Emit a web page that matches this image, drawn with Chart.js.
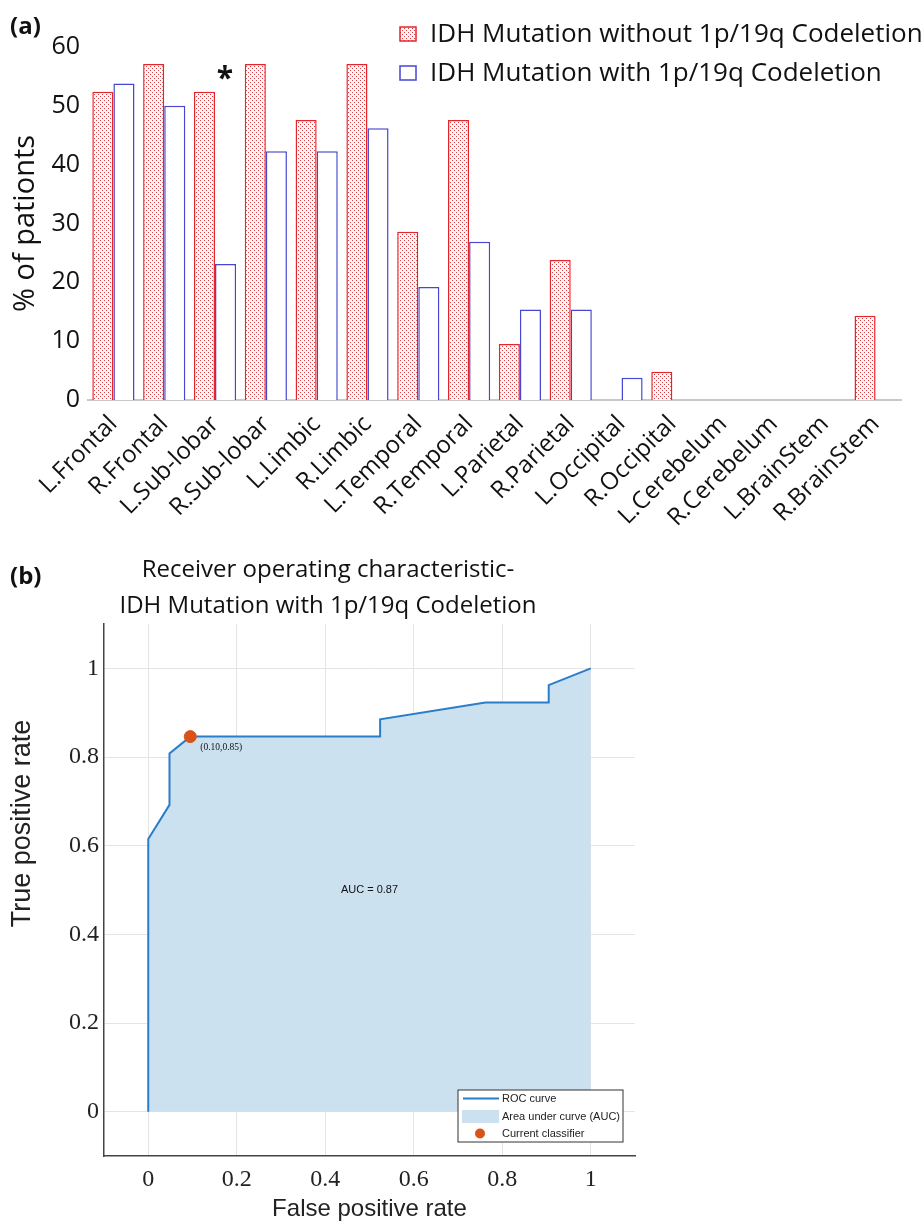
<!DOCTYPE html>
<html>
<head>
<meta charset="utf-8">
<script src="https://cdn.jsdelivr.net/npm/chart.js@4.4.1/dist/chart.umd.min.js"></script>
<style>
  body { margin: 0; background: #fff; width: 924px; height: 1224px; position: relative; overflow: hidden; }
  #boxA { position: absolute; left: 0; top: 0; width: 924px; height: 540px; }
  #boxB { position: absolute; left: 0; top: 540px; width: 656px; height: 684px; }
</style>
</head>
<body>
<div id="boxA"><canvas id="chartA"></canvas></div>
<div id="boxB"><canvas id="chartB"></canvas></div>
<script>
// panel (a): brain regions, % of patients in each group
const regions = ["L.Frontal", "R.Frontal", "L.Sub-lobar", "R.Sub-lobar", "L.Limbic", "R.Limbic",
  "L.Temporal", "R.Temporal", "L.Parietal", "R.Parietal", "L.Occipital", "R.Occipital",
  "L.Cerebelum", "R.Cerebelum", "L.BrainStem", "R.BrainStem"]
const withoutCodel = [52.4, 57.1, 52.4, 57.1, 47.6, 57.1, 28.6, 47.6, 9.5, 23.8, 0, 4.8, 0, 0, 0, 14.3]
const withCodel = [53.8, 50.0, 23.1, 42.3, 42.3, 46.2, 19.2, 26.9, 15.4, 15.4, 3.8, 0, 0, 0, 0, 0]
const seriesNames = ["IDH Mutation without 1p/19q Codeletion", "IDH Mutation with 1p/19q Codeletion"]

// panel (b): ROC curve
const fpr = [0, 0, 0.048, 0.048, 0.095, 0.524, 0.524, 0.762, 0.905, 0.905, 1]
const tpr = [0, 0.615, 0.692, 0.808, 0.846, 0.846, 0.885, 0.923, 0.923, 0.962, 1]
const classifier = [0.095, 0.846]
const rocTicks = [0, 0.2, 0.4, 0.6, 0.8, 1]

const sans = '"Open Sans"'

// red dotted fill for the first series
function dotPattern() {
    const c = document.createElement("canvas")
    c.width = 4
    c.height = 4
    const g = c.getContext("2d")
    g.fillStyle = "#fff"
    g.fillRect(0, 0, 4, 4)
    g.fillStyle = "#e6393d"
    g.fillRect(0, 0, 1, 1)
    g.fillRect(2, 2, 1, 1)
    return g.createPattern(c, "repeat")
}

const legendA = {
    id: "legendA",
    afterDraw(chart) {
        const ctx = chart.ctx
        ctx.save()
        chart.data.datasets.forEach((ds, i) => {
            const y = 34 + i * 39
            ctx.fillStyle = ds.backgroundColor
            ctx.fillRect(400, y - 7, 16, 14)
            ctx.strokeStyle = ds.borderColor
            ctx.lineWidth = 1.5
            ctx.strokeRect(400, y - 7, 16, 14)
            ctx.fillStyle = "#111"
            ctx.font = `26px ${sans}`
            ctx.textBaseline = "middle"
            ctx.textAlign = "left"
            ctx.fillText(ds.label, 430, y + 1)
        })
        // panel letter
        ctx.font = `bold 24px ${sans}`
        ctx.fillText("(a)", 10, 27)
        // significance mark over L.Sub-lobar
        const xs = chart.scales.x, ys = chart.scales.y
        ctx.font = `bold 30px ${sans}`
        ctx.textAlign = "center"
        ctx.fillText("*", xs.getPixelForValue(2) + 10, ys.getPixelForValue(54.5))
        ctx.restore()
    }
}

new Chart(document.getElementById("chartA"), {
    type: "bar",
    data: {
        labels: regions,
        datasets: [
            {
                label: seriesNames[0],
                data: withoutCodel,
                backgroundColor: dotPattern(),
                borderColor: "#e3262c",
                borderWidth: 1.5,
            },
            {
                label: seriesNames[1],
                data: withCodel,
                backgroundColor: "#fff",
                borderColor: "#4646d2",
                borderWidth: 1.5,
            },
        ]
    },
    options: {
        responsive: true,
        maintainAspectRatio: false,
        animation: false,
        categoryPercentage: 0.83,
        barPercentage: 1.0,
        layout: { padding: { top: 47, right: 23, left: 0, bottom: 0 } },
        plugins: {
            legend: { display: false },
            tooltip: { enabled: false },
        },
        scales: {
            x: {
                grid: { display: false },
                border: { display: true, color: "#c8c8c8", width: 2 },
                ticks: {
                    autoSkip: false,
                    minRotation: 45,
                    maxRotation: 45,
                    color: "#111",
                    padding: 2,
                    font: { family: sans, size: 24 },
                },
                afterFit: s => { s.height = 140 },
            },
            y: {
                min: 0,
                max: 60,
                ticks: { stepSize: 10, color: "#111", padding: 8, font: { family: sans, size: 25 } },
                grid: { display: false, drawTicks: false },
                border: { display: false },
                title: {
                    display: true,
                    text: "% of pationts",
                    color: "#111",
                    font: { family: sans, size: 29 },
                    padding: { top: 8, bottom: 0 },
                },
                afterFit: s => { s.width = 88 },
            }
        }
    },
    plugins: [legendA]
})

const notesB = {
    id: "notesB",
    afterDraw(chart) {
        const ctx = chart.ctx
        const xs = chart.scales.x, ys = chart.scales.y
        const area = chart.chartArea
        ctx.save()
        ctx.fillStyle = "#111"
        ctx.textBaseline = "middle"
        ctx.font = `bold 24px ${sans}`
        ctx.fillText("(b)", 10, 37)

        // y axis title, placed as in the figure (not centred on the axis)
        ctx.save()
        ctx.translate(23, ys.getPixelForValue(0.65))
        ctx.rotate(-Math.PI / 2)
        ctx.textAlign = "center"
        ctx.fillStyle = "#222"
        ctx.font = '27px "Liberation Sans"'
        ctx.fillText("True positive rate", 0, 0)
        ctx.restore()

        ctx.font = '9.5px "Liberation Serif"'
        ctx.fillText("(0.10,0.85)", xs.getPixelForValue(classifier[0]) + 10, ys.getPixelForValue(classifier[1]) + 11)
        ctx.font = '11px "Liberation Sans"'
        ctx.textAlign = "center"
        ctx.fillText("AUC = 0.87", xs.getPixelForValue(0.5), ys.getPixelForValue(0.5))

        // legend box, bottom right inside the axes
        const w = 165, h = 52
        const bx = area.right - 12 - w, by = area.bottom - 14 - h
        ctx.fillStyle = "#fff"
        ctx.fillRect(bx, by, w, h)
        ctx.strokeStyle = "#333"
        ctx.lineWidth = 1
        ctx.strokeRect(bx, by, w, h)
        const roc = chart.data.datasets[0], dot = chart.data.datasets[1]
        ctx.strokeStyle = roc.borderColor
        ctx.lineWidth = 2
        ctx.beginPath()
        ctx.moveTo(bx + 5, by + 8.5)
        ctx.lineTo(bx + 41, by + 8.5)
        ctx.stroke()
        ctx.fillStyle = roc.backgroundColor
        ctx.fillRect(bx + 4, by + 20, 37, 13)
        ctx.fillStyle = dot.backgroundColor
        ctx.beginPath()
        ctx.arc(bx + 22, by + 43.5, 5, 0, Math.PI * 2)
        ctx.fill()
        ctx.fillStyle = "#222"
        ctx.textAlign = "left"
        ctx.font = '11px "Liberation Sans"'
        ctx.fillText(roc.label, bx + 44, by + 9)
        ctx.fillText("Area under curve (AUC)", bx + 44, by + 27)
        ctx.fillText(dot.label, bx + 44, by + 44)
        ctx.restore()
    }
}

const serifTicks = { family: "Liberation Serif", size: 24 }

new Chart(document.getElementById("chartB"), {
    type: "line",
    data: {
        datasets: [
            {
                label: "ROC curve",
                data: fpr.map((x, i) => ({ x: x, y: tpr[i] })),
                borderColor: "#2a7dc9",
                borderWidth: 2,
                backgroundColor: "#cbe1f0",
                fill: "origin",
                pointRadius: 0,
                tension: 0,
                order: 2,
            },
            {
                label: "Current classifier",
                type: "scatter",
                data: [{ x: classifier[0], y: classifier[1] }],
                pointRadius: 6,
                backgroundColor: "#d95319",
                borderColor: "#d95319",
                order: 1,
            }
        ]
    },
    options: {
        responsive: true,
        maintainAspectRatio: false,
        animation: false,
        layout: { padding: { left: 21, right: 21, top: 0, bottom: 0 } },
        plugins: {
            legend: { display: false },
            tooltip: { enabled: false },
            title: {
                display: true,
                text: ["Receiver operating characteristic-", "IDH Mutation with 1p/19q Codeletion"],
                color: "#111",
                font: { family: sans, size: 24, weight: "normal", lineHeight: 1.5 },
                padding: { top: 12, bottom: 0 },
            }
        },
        scales: {
            x: {
                type: "linear",
                min: -0.1,
                max: 1.1,
                afterBuildTicks: s => { s.ticks = rocTicks.map(v => ({ value: v })) },
                ticks: { color: "#222", padding: 9, font: serifTicks, callback: v => String(v) },
                grid: { color: "#e4e4e4", drawTicks: false },
                border: { color: "#444", width: 1.5 },
                title: {
                    display: true,
                    text: "False positive rate",
                    color: "#222",
                    font: { family: "Liberation Sans", size: 24 },
                    padding: { top: 0, bottom: 0 },
                },
                afterFit: s => { s.height = 68 },
            },
            y: {
                type: "linear",
                min: -0.1,
                max: 1.1,
                afterBuildTicks: s => { s.ticks = rocTicks.map(v => ({ value: v })) },
                ticks: { color: "#222", padding: 5, font: serifTicks, callback: v => String(v) },
                grid: { color: "#e4e4e4", drawTicks: false },
                border: { color: "#444", width: 1.5 },
                afterFit: s => { s.width = 83 },
            }
        }
    },
    plugins: [notesB]
})
</script>
</body>
</html>
